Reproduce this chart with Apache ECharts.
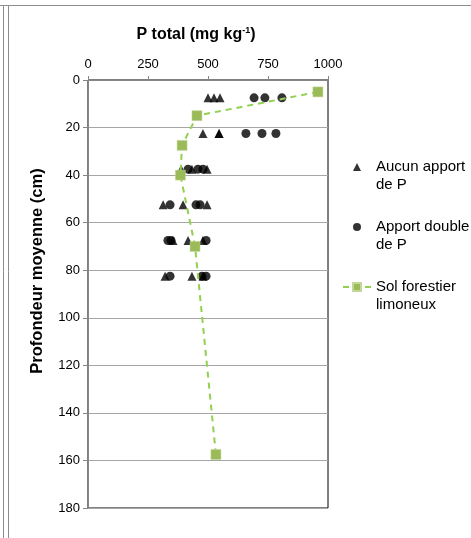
<!DOCTYPE html>
<html>
<head>
<meta charset="utf-8">
<script src="https://cdn.jsdelivr.net/npm/echarts@6/dist/echarts.min.js"></script>
<style>html,body{margin:0;padding:0;background:#fff}#c{width:471px;height:538px}</style>
</head>
<body>
<div id="c"></div>
<script>
// Data: [P total (mg/kg), depth (cm)]
var aucunApport = [
  [500, 7.5], [525, 7.5], [550, 7.5],
  [479, 22.5], [546, 22.5], [546, 22.5],
  [388, 37.5], [433, 37.5], [496, 37.5],
  [313, 52.5], [396, 52.5], [496, 52.5],
  [354, 67.5], [417, 67.5], [479, 67.5],
  [321, 82.5], [433, 82.5], [479, 82.5]
];
var apportDouble = [
  [692, 7.5], [737, 7.5], [808, 7.5],
  [658, 22.5], [725, 22.5], [783, 22.5],
  [417, 37.5], [458, 37.5], [479, 37.5],
  [342, 52.5], [450, 52.5], [467, 52.5],
  [333, 67.5], [346, 67.5], [492, 67.5],
  [342, 82.5], [475, 82.5], [492, 82.5]
];
var solForestier = [
  [958, 5], [454, 15], [392, 27.5], [385, 40], [446, 70], [533, 157.5]
];
var seriesNames = ['Aucun apport\nde P', 'Apport double\nde P', 'Sol forestier\nlimoneux'];

var chart = echarts.init(document.getElementById('c'));
var font = 'Liberation Sans, Arial, sans-serif';
// legend icons padded to the 28x10 icon box so the marker stays small and centred
var triIcon = 'path://M0,0 M28,10 M10,9 L14,1 L18,9 Z';
var dotIcon = 'path://M0,0 M28,10 M18,5 A4,4 0 1,1 10,5 A4,4 0 1,1 18,5 Z';
chart.setOption({
  animation: false,
  textStyle: { fontFamily: font },
  title: {
    text: 'P total (mg kg{sup|-1})',
    left: 191, top: 21, textAlign: 'center',
    textStyle: {
      fontSize: 16, fontWeight: 'bold', color: '#000', fontFamily: font,
      rich: { sup: { fontSize: 9, fontWeight: 'bold', verticalAlign: 'top', padding: [0, 0, 9, 0], color: '#000' } }
    }
  },
  grid: { left: 88, top: 80, right: 143, bottom: 30, show: true, borderColor: '#000', borderWidth: 1 },
  legend: {
    orient: 'vertical', left: 337, top: 135, itemGap: 6,
    itemWidth: 28, itemHeight: 10,
    formatter: function (name) { return ' \n' + name; },
    textStyle: { fontSize: 15, color: '#000', fontFamily: font, lineHeight: 18 },
    data: [
      { name: seriesNames[0], icon: triIcon, itemStyle: { color: '#000' } },
      { name: seriesNames[1], icon: dotIcon, itemStyle: { color: '#000' } },
      { name: seriesNames[2] }
    ]
  },
  xAxis: {
    type: 'value', position: 'top', min: 0, max: 1000, interval: 250,
    axisLine: { show: true, lineStyle: { color: '#868686' } },
    axisTick: { show: true, length: 4, lineStyle: { color: '#868686' } },
    axisLabel: { fontSize: 13, color: '#000', margin: 9, formatter: function (v) { return String(v); } },
    splitLine: { show: false }
  },
  yAxis: {
    type: 'value', inverse: true, min: 0, max: 180, interval: 20,
    name: 'Profondeur moyenne (cm)', nameLocation: 'middle', nameGap: 42,
    nameTextStyle: { fontSize: 16.5, fontWeight: 'bold', color: '#000', padding: [0, 0, 0, 46] },
    axisLine: { show: true, lineStyle: { color: '#868686' } },
    axisTick: { show: true, length: 5, lineStyle: { color: '#868686' } },
    axisLabel: { fontSize: 13, color: '#000', margin: 8 },
    splitLine: { show: true, lineStyle: { color: '#a6a6a6', width: 1 } }
  },
  series: [
    { name: seriesNames[0], type: 'scatter', data: aucunApport, symbol: 'triangle', symbolSize: 9,
      itemStyle: { color: '#000' } },
    { name: seriesNames[1], type: 'scatter', data: apportDouble, symbol: 'circle', symbolSize: 9,
      itemStyle: { color: '#000' } },
    { name: seriesNames[2], type: 'line', data: solForestier, symbol: 'rect', symbolSize: 10,
      itemStyle: { color: '#9bbb59', borderColor: '#c4d79b', borderWidth: 0.5 },
      lineStyle: { color: '#92d050', width: 2, type: [6, 5] } }
  ],
  graphic: [
    { type: 'line', shape: { x1: 0, y1: 5.5, x2: 471, y2: 5.5 }, style: { stroke: '#8c8c8c', lineWidth: 1 } },
    { type: 'line', shape: { x1: 3.5, y1: 5, x2: 3.5, y2: 538 }, style: { stroke: '#8c8c8c', lineWidth: 1 } },
    { type: 'line', shape: { x1: 8.5, y1: 5, x2: 8.5, y2: 538 }, style: { stroke: '#8c8c8c', lineWidth: 1 } }
  ]
});
</script>
</body>
</html>
